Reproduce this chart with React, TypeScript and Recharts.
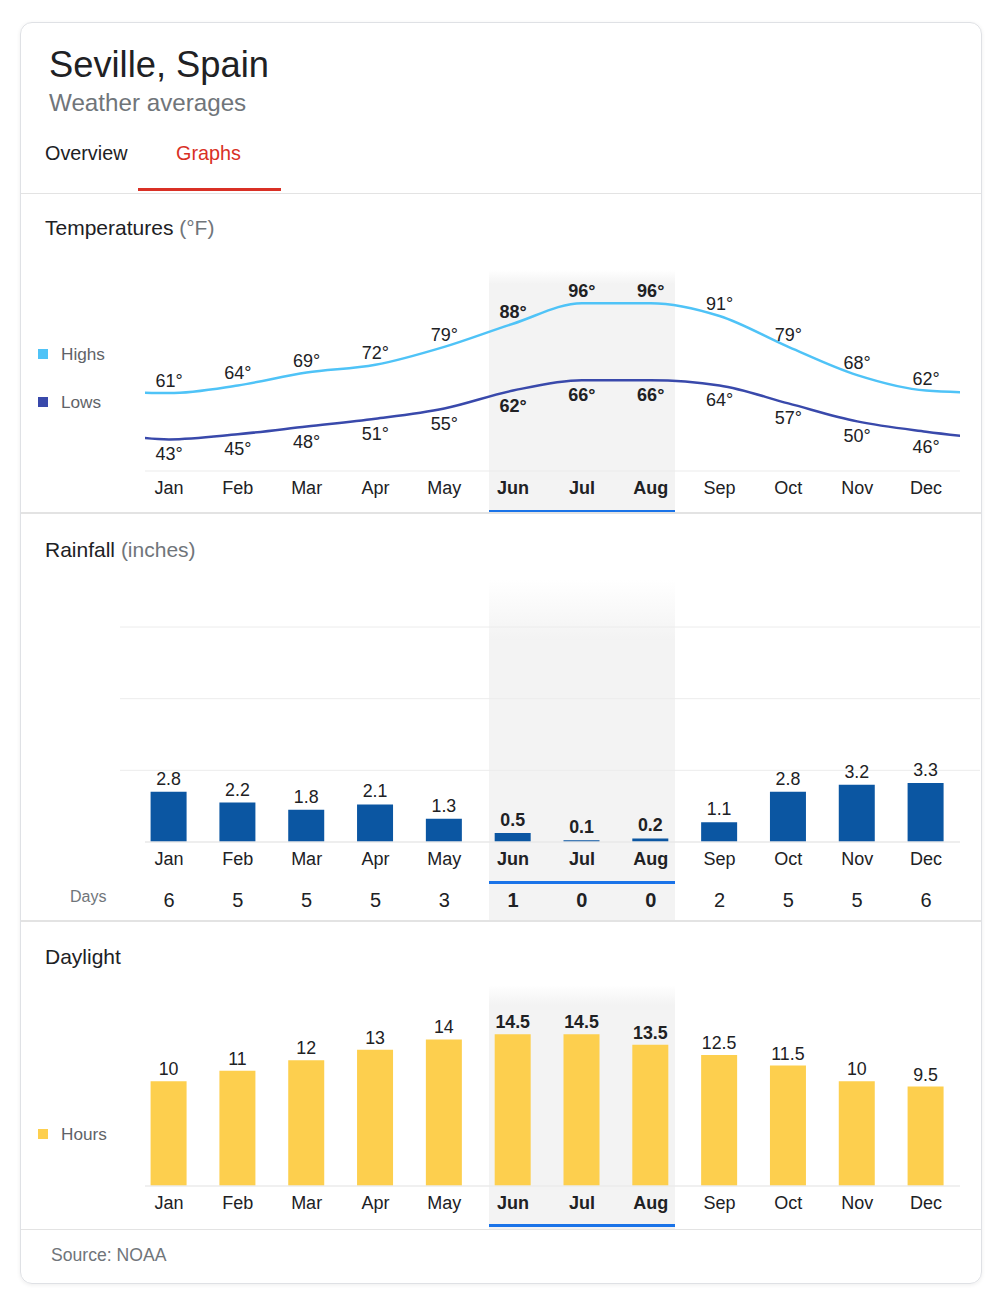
import React from 'react';
import { LineChart, Line, XAxis, YAxis, BarChart, Bar, LabelList, ReferenceLine } from 'recharts';

const MONTHS = ['Jan', 'Feb', 'Mar', 'Apr', 'May', 'Jun', 'Jul', 'Aug', 'Sep', 'Oct', 'Nov', 'Dec'];
const HIGHS = [61, 64, 69, 72, 79, 88, 96, 96, 91, 79, 68, 62];
const LOWS = [43, 45, 48, 51, 55, 62, 66, 66, 64, 57, 50, 46];
const RAIN = [2.8, 2.2, 1.8, 2.1, 1.3, 0.5, 0.1, 0.2, 1.1, 2.8, 3.2, 3.3];
const RAIN_DAYS = [6, 5, 5, 5, 3, 1, 0, 0, 2, 5, 5, 6];
const DAYLIGHT = [10, 11, 12, 13, 14, 14.5, 14.5, 13.5, 12.5, 11.5, 10, 9.5];
const HIGHLIGHT = [5, 6, 7];
const RAIN_GRID = [4, 8, 12];
const TICKS = MONTHS.map((_, i) => i);

const FONT = '"Liberation Sans", Arial, Helvetica, sans-serif';
const TEXT = '#202124';
const GRAY = '#70757a';
const HIGH_C = '#4fc3f7';
const LOW_C = '#3949ab';
const RAIN_C = '#0b56a2';
const SUN_C = '#fdcf4e';
const BAND_C = '#f3f3f3';

// layout
const FIRST_X = 169;
const LAST_X = 926;
const STEP = (LAST_X - FIRST_X) / 11;
const PLOT_L = 145;
const PLOT_R = 960;
const toIdx = (px: number) => (px - FIRST_X) / STEP;
const DOMAIN: [number, number] = [toIdx(PLOT_L), toIdx(PLOT_R)];
const GRID_DOMAIN: [number, number] = [toIdx(120), toIdx(980)];

const tempData = [
  { i: -1, high: HIGHS[11], low: LOWS[11] },
  ...MONTHS.map((_, i) => ({ i, high: HIGHS[i], low: LOWS[i] })),
  { i: 12, high: HIGHS[0], low: LOWS[0] },
];
const rainData = MONTHS.map((m, i) => ({ i, rain: RAIN[i] }));
const sunData = MONTHS.map((m, i) => ({ i, hours: DAYLIGHT[i] }));

const isHi = (i: number) => HIGHLIGHT.includes(i);

const MonthTick = (props: any) => {
  const { x, y, payload } = props;
  const i = payload.value;
  return (
    <text x={x} y={y} dy="0.71em" textAnchor="middle" fontSize={18} fontFamily={FONT}
      fontWeight={isHi(i) ? 700 : 400} fill={TEXT}>{MONTHS[i]}</text>
  );
};

const RainTick = (props: any) => {
  const { x, y, payload } = props;
  const i = payload.value;
  return (
    <g>
      <text x={x} y={y} dy="0.71em" textAnchor="middle" fontSize={18} fontFamily={FONT}
        fontWeight={isHi(i) ? 700 : 400} fill={TEXT}>{MONTHS[i]}</text>
      <text x={x} y={y + 55} textAnchor="middle" fontSize={20} fontFamily={FONT}
        fontWeight={isHi(i) ? 700 : 400} fill={TEXT}>{RAIN_DAYS[i]}</text>
    </g>
  );
};

const tempLabel = (above: boolean) => (props: any) => {
  const { x, y, value } = props;
  if (x < PLOT_L + 1 || x > PLOT_R - 1) return null;
  const i = Math.round((x - FIRST_X) / STEP);
  return (
    <text x={x} y={above ? y - 6 : y + 21} textAnchor="middle" fontSize={18} fontFamily={FONT}
      fontWeight={isHi(i) ? 700 : 400} fill={TEXT}>{`${value}°`}</text>
  );
};

const barLabel = (off: number) => (props: any) => {
  const { x, y, width, value, index } = props;
  return (
    <text x={x + width / 2} y={y - off} textAnchor="middle" fontSize={17.8} fontFamily={FONT}
      fontWeight={isHi(index) ? 700 : 400} fill={TEXT}>{value}</text>
  );
};

const abs = (s: React.CSSProperties): React.CSSProperties => ({ position: 'absolute', ...s });

const bandLeft = FIRST_X + HIGHLIGHT[0] * STEP - 24;
const bandWidth = (HIGHLIGHT[HIGHLIGHT.length - 1] - HIGHLIGHT[0]) * STEP + 48;

const Band = ({ top, bottom, fade }: { top: number; bottom: number; fade: number }) => (
  <div style={abs({ left: bandLeft, width: bandWidth, top, height: bottom - top,
    background: `linear-gradient(to bottom, rgba(243,243,243,0) 0px, ${BAND_C} ${fade}px, ${BAND_C} 100%)` })} />
);

const Underline = ({ top }: { top: number }) => (
  <div style={abs({ left: bandLeft, width: bandWidth, top, height: 3, background: '#1a73e8' })} />
);

const Divider = ({ top }: { top: number }) => (
  <div style={abs({ left: 21, width: 960, top, height: 1.5, background: '#e3e3e3' })} />
);

const Legend = ({ top, color, label }: { top: number; color: string; label: string }) => (
  <>
    <div style={abs({ left: 38, top: top - 5, width: 10, height: 10, background: color })} />
    <div style={abs({ left: 61, top: top - 8.5, fontSize: 17.2, lineHeight: '17px', color: '#5f6368' })}>{label}</div>
  </>
);

const SectionTitle = ({ center, main, sub }: { center: number; main: string; sub?: string }) => (
  <div style={abs({ left: 45, top: center - 10.3, fontSize: 21, lineHeight: '21px', color: TEXT })}>
    {main}{sub ? <span style={{ color: GRAY }}>{' ' + sub}</span> : null}
  </div>
);

export default function App() {
  return (
    <div style={{ position: 'absolute', left: 0, top: 0, width: 1000, height: 1301, background: '#fff', fontFamily: FONT, overflow: 'hidden' }}>
      <div style={abs({ left: 20, top: 22, width: 960, height: 1260, border: '1px solid #dfe1e5', borderRadius: 12, boxShadow: '0 1px 4px rgba(0,0,0,0.07)' })} />

      <div style={abs({ left: 49, top: 47.3, fontSize: 36.3, lineHeight: '36px', color: TEXT })}>Seville, Spain</div>
      <div style={abs({ left: 49, top: 91.2, fontSize: 24.2, lineHeight: '24px', color: GRAY })}>Weather averages</div>
      <div style={abs({ left: 45, top: 143.7, fontSize: 19.8, lineHeight: '19px', color: TEXT })}>Overview</div>
      <div style={abs({ left: 176, top: 143.7, fontSize: 19.8, lineHeight: '19px', color: '#d93025' })}>Graphs</div>
      <div style={abs({ left: 138, top: 188, width: 143, height: 3, background: '#d93025' })} />
      <Divider top={192.5} />

      {/* Temperatures */}
      <SectionTitle center={227} main="Temperatures" sub="(°F)" />
      <Band top={270} bottom={512} fade={14} />
      <Legend top={354} color={HIGH_C} label="Highs" />
      <Legend top={402} color={LOW_C} label="Lows" />
      <div style={abs({ left: 0, top: 250 })}>
        <LineChart width={1000} height={250} data={tempData} margin={{ top: 20, right: 1000 - PLOT_R, bottom: 0, left: PLOT_L }}>
          <XAxis type="number" dataKey="i" domain={DOMAIN} allowDataOverflow ticks={TICKS} interval={0}
            tick={MonthTick} tickLine={false} tickSize={0} tickMargin={10} height={29}
            axisLine={{ stroke: '#ebebeb' }} />
          <YAxis hide domain={[30.7, 108.9]} allowDataOverflow />
          <Line dataKey="high" type="monotone" stroke={HIGH_C} strokeWidth={2.5} dot={false} isAnimationActive={false}>
            <LabelList dataKey="high" content={tempLabel(true)} />
          </Line>
          <Line dataKey="low" type="monotone" stroke={LOW_C} strokeWidth={2.5} dot={false} isAnimationActive={false}>
            <LabelList dataKey="low" content={tempLabel(false)} />
          </Line>
        </LineChart>
      </div>
      <Underline top={510} />
      <Divider top={512} />

      {/* Rainfall */}
      <SectionTitle center={549} main="Rainfall" sub="(inches)" />
      <Band top={580} bottom={920} fade={60} />
      <div style={abs({ left: 70, top: 889, fontSize: 16, lineHeight: '16px', color: GRAY })}>Days</div>
      <div style={abs({ left: 0, top: 600 })}>
        <BarChart width={1000} height={312} data={rainData} margin={{ top: 27, right: 20, bottom: 0, left: 120 }}>
          <XAxis type="number" dataKey="i" domain={GRID_DOMAIN} allowDataOverflow ticks={TICKS} interval={0}
            tick={RainTick} tickLine={false} tickSize={0} tickMargin={10} height={70} axisLine={false} />
          <YAxis hide domain={[0, 12]} allowDataOverflow />
          {RAIN_GRID.map((v) => (
            <ReferenceLine key={v} y={v} stroke="#ececec" strokeWidth={1} />
          ))}
          <ReferenceLine segment={[{ x: DOMAIN[0], y: 0 }, { x: DOMAIN[1], y: 0 }]} stroke="#e8e8e8" strokeWidth={1.5} />
          <Bar dataKey="rain" fill={RAIN_C} barSize={36} isAnimationActive={false}>
            <LabelList dataKey="rain" content={barLabel(7)} />
          </Bar>
        </BarChart>
      </div>
      <Underline top={881} />
      <Divider top={920} />

      {/* Daylight */}
      <SectionTitle center={956} main="Daylight" />
      <Band top={985} bottom={1229} fade={20} />
      <Legend top={1134} color={SUN_C} label="Hours" />
      <div style={abs({ left: 0, top: 980 })}>
        <BarChart width={1000} height={236} data={sunData} margin={{ top: 17.5, right: 1000 - PLOT_R, bottom: 0, left: PLOT_L }}>
          <XAxis type="number" dataKey="i" domain={DOMAIN} allowDataOverflow ticks={TICKS} interval={0}
            tick={MonthTick} tickLine={false} tickSize={0} tickMargin={10} height={30}
            axisLine={{ stroke: '#ebebeb', strokeWidth: 1.5 }} />
          <YAxis hide domain={[0, 18]} allowDataOverflow />
          <Bar dataKey="hours" fill={SUN_C} barSize={36} isAnimationActive={false}>
            <LabelList dataKey="hours" content={barLabel(6)} />
          </Bar>
        </BarChart>
      </div>
      <Underline top={1224} />
      <Divider top={1228.5} />

      <div style={abs({ left: 51, top: 1247.3, fontSize: 17.6, lineHeight: '17px', color: GRAY })}>Source: NOAA</div>
    </div>
  );
}
